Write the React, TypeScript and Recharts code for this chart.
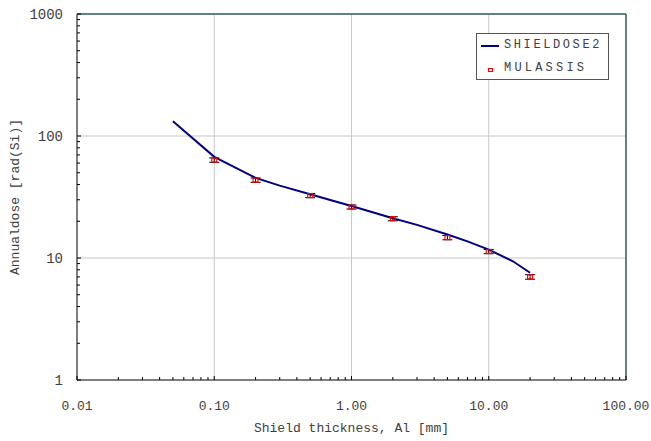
import React from "react";
import {
  ComposedChart,
  Line,
  Scatter,
  ErrorBar,
  XAxis,
  YAxis,
  ReferenceLine,
  Legend,
} from "recharts";

// SHIELDOSE2 curve
const shieldX = [0.05, 0.1, 0.2, 0.3, 0.5, 0.7, 1, 2, 3, 5, 7, 10, 15, 20];
const shieldY = [132, 67.5, 45.4, 39.2, 33.3, 29.9, 26.7, 21.2, 18.7, 15.6, 13.7, 11.7, 9.4, 7.57];

// MULASSIS points with error
const mulX = [0.1, 0.2, 0.5, 1, 2, 5, 10, 20];
const mulY = [63.5, 43.5, 32.5, 26.2, 21, 14.7, 11.3, 7.0];
const mulErr = [2.6, 1.8, 1.3, 1.0, 0.8, 0.6, 0.45, 0.3];

const xTicks = [
  0.01, 0.02, 0.03, 0.04, 0.05, 0.06, 0.07, 0.08, 0.09,
  0.1, 0.2, 0.3, 0.4, 0.5, 0.6, 0.7, 0.8, 0.9,
  1, 2, 3, 4, 5, 6, 7, 8, 9,
  10, 20, 30, 40, 50, 60, 70, 80, 90, 100,
];
const xMajor = { 0.01: "0.01", 0.1: "0.10", 1: "1.00", 10: "10.00", 100: "100.00" };

const yTicks = [
  1, 2, 3, 4, 5, 6, 7, 8, 9,
  10, 20, 30, 40, 50, 60, 70, 80, 90,
  100, 200, 300, 400, 500, 600, 700, 800, 900, 1000,
];
const yMajor = { 1: "1", 10: "10", 100: "100", 1000: "1000" };

const gridX = [0.1, 1, 10];
const gridY = [10, 100];

const shieldData = shieldX.map((x, i) => ({ x, y: shieldY[i] }));
const mulData = mulX.map((x, i) => ({ x, y: mulY[i], err: mulErr[i] }));

const FONT = "'Liberation Mono', 'DejaVu Sans Mono', monospace";
const TEXT = "#404040";
const FRAME = "#2f5a5a";

const XTick = ({ x, y, payload }) => {
  const lbl = xMajor[payload.value];
  return (
    <g>
      <line x1={x} y1={y} x2={x} y2={y - (lbl ? 4 : 3)} stroke="#000" />
      {lbl && (
        <text x={x} y={y + 30} textAnchor="middle" fontFamily={FONT} fontSize={13} fill={TEXT}>
          {lbl}
        </text>
      )}
    </g>
  );
};

const YTick = ({ x, y, payload }) => {
  const lbl = yMajor[payload.value];
  return (
    <g>
      <line x1={x} y1={y} x2={x + (lbl ? 4 : 3)} y2={y} stroke="#000" />
      {lbl && (
        <text x={x - 14} y={y + 5} textAnchor="end" fontFamily={FONT} fontSize={14} fill={TEXT}>
          {lbl}
        </text>
      )}
    </g>
  );
};

const Marker = ({ cx, cy }) => (
  <rect x={cx - 2.5} y={cy - 2} width={5} height={4} fill="none" stroke="#ff0000" strokeWidth={1.2} />
);

const LegendBox = () => (
  <div
    style={{
      width: 131,
      height: 45,
      border: "1px solid #555",
      background: "#fff",
      fontFamily: FONT,
      fontSize: 12,
      color: TEXT,
      position: "relative",
    }}
  >
    <div style={{ position: "absolute", left: 4, top: 11, width: 18, height: 2, background: "#000080" }} />
    <div style={{ position: "absolute", left: 27, top: 4, letterSpacing: 2.6, whiteSpace: "nowrap" }}>SHIELDOSE2</div>
    <div
      style={{
        position: "absolute",
        left: 11,
        top: 34,
        width: 3,
        height: 2,
        border: "1px solid #ff0000",
      }}
    />
    <div style={{ position: "absolute", left: 27, top: 27, letterSpacing: 3.2, whiteSpace: "nowrap" }}>MULASSIS</div>
  </div>
);

export default function App() {
  return (
    <div style={{ position: "absolute", left: 0, top: 0, background: "#fff" }}>
      <ComposedChart width={651} height={441} margin={{ top: 14, right: 25, left: 0, bottom: 0 }}>
        <XAxis
          dataKey="x"
          type="number"
          scale="log"
          domain={[0.01, 100]}
          ticks={xTicks}
          interval={0}
          allowDataOverflow
          height={61}
          stroke="#000"
          tickSize={0}
          tickMargin={0}
          tick={<XTick />}
          label={{
            content: ({ viewBox }) => (
              <text
                x={viewBox.x + viewBox.width / 2}
                y={viewBox.y + 52}
                textAnchor="middle"
                fontFamily={FONT}
                fontSize={13}
                fill={TEXT}
              >
                Shield thickness, Al [mm]
              </text>
            ),
          }}
        />
        <YAxis
          dataKey="y"
          type="number"
          scale="log"
          domain={[1, 1000]}
          ticks={yTicks}
          interval={0}
          allowDataOverflow
          width={77}
          stroke="#000"
          tickSize={0}
          tickMargin={0}
          tick={<YTick />}
          label={{
            content: ({ viewBox }) => {
              const cx = viewBox.x + 16;
              const cy = viewBox.y + viewBox.height / 2;
              return (
                <text
                  x={cx}
                  y={cy}
                  transform={`rotate(-90 ${cx} ${cy})`}
                  textAnchor="middle"
                  dominantBaseline="middle"
                  fontFamily={FONT}
                  fontSize={13}
                  fill={TEXT}
                >
                  Annualdose [rad(Si)]
                </text>
              );
            },
          }}
        />
        {gridX.map((v) => (
          <ReferenceLine key={"gx" + v} x={v} stroke="#c8c8c8" strokeWidth={1} />
        ))}
        {gridY.map((v) => (
          <ReferenceLine key={"gy" + v} y={v} stroke="#c8c8c8" strokeWidth={1} />
        ))}
        <ReferenceLine y={1000} stroke={FRAME} strokeWidth={1.5} />
        <ReferenceLine x={100} stroke={FRAME} strokeWidth={1.5} />
        <Line
          data={shieldData}
          dataKey="y"
          type="linear"
          stroke="#000080"
          strokeWidth={2}
          dot={false}
          isAnimationActive={false}
        />
        <Scatter data={mulData} dataKey="y" shape={<Marker />} isAnimationActive={false}>
          <ErrorBar dataKey="err" direction="y" width={5} stroke="#000" strokeWidth={1} isAnimationActive={false} />
        </Scatter>
        <Legend
          layout="vertical"
          align="center"
          verticalAlign="middle"
          content={<LegendBox />}
          wrapperStyle={{ position: "absolute", left: 476, top: 33, width: "auto" }}
        />
      </ComposedChart>
    </div>
  );
}
